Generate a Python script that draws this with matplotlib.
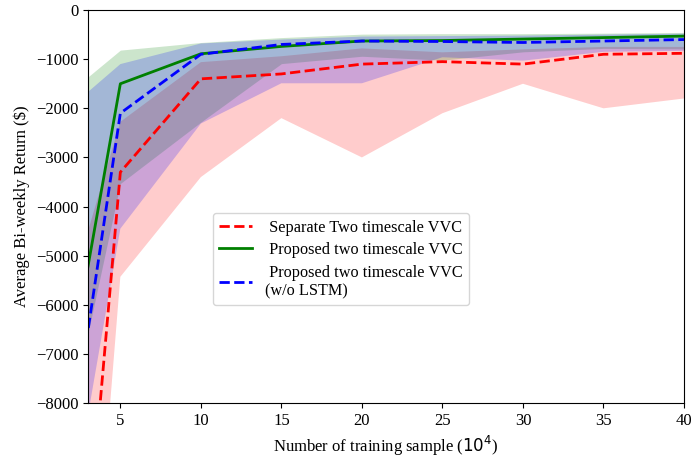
import matplotlib
matplotlib.use("Agg")
import matplotlib.pyplot as plt

plt.rcParams['font.family'] = ['Liberation Serif', 'DejaVu Serif']
plt.rcParams['mathtext.fontset'] = 'dejavusans'

x = [1, 5, 10, 15, 20, 25, 30, 35, 40]

red_mean = [-18300, -3300, -1400, -1300, -1100, -1050, -1100, -900, -880]
red_top = [-6700, -2275, -1060, -940, -780, -860, -800, -750, -750]
red_bot = [-21700, -5430, -3400, -2200, -3000, -2100, -1500, -2000, -1800]

green_mean = [-8900, -1500, -890, -740, -630, -620, -590, -560, -530]
green_top = [-1900, -815, -660, -560, -490, -480, -480, -470, -455]
green_bot = [-9600, -3530, -2280, -1090, -940, -1020, -850, -780, -790]

blue_mean = [-10900, -2100, -900, -700, -630, -640, -660, -630, -600]
blue_top = [-2230, -1100, -680, -600, -540, -530, -520, -500, -480]
blue_bot = [-12000, -4450, -2310, -1490, -1490, -960, -1030, -850, -830]

labels = [" Separate Two timescale VVC",
          " Proposed two timescale VVC",
          " Proposed two timescale VVC\n(w/o LSTM)"]

fig = plt.figure(figsize=(6.94, 4.58), dpi=100)
ax = fig.add_axes([0.127, 0.12, 0.8586, 0.858])

ax.fill_between(x, red_bot, red_top, color='red', alpha=0.2, linewidth=0)
ax.fill_between(x, green_bot, green_top, color='green', alpha=0.2, linewidth=0)
ax.fill_between(x, blue_bot, blue_top, color='blue', alpha=0.2, linewidth=0)

ax.plot(x, red_mean, color='red', linestyle='--', linewidth=2, label=labels[0])
ax.plot(x, green_mean, color='green', linestyle='-', linewidth=2, label=labels[1])
ax.plot(x, blue_mean, color='blue', linestyle='--', linewidth=2, label=labels[2])

ax.set_xlim(3, 40)
ax.set_ylim(-8000, 0)
ax.set_xticks([5, 10, 15, 20, 25, 30, 35, 40])
ax.set_yticks(range(-8000, 1, 1000))
ax.tick_params(labelsize=12)
ax.set_xlabel("Number of training sample ($10^4$)", fontsize=12)
ax.set_ylabel("Average Bi-weekly Return ($)", fontsize=12)

ax.legend(loc='center', bbox_to_anchor=(0.424, 0.366), fontsize=11.7,
          handlelength=2.0, labelspacing=0.4)

fig.savefig("out.png", dpi=100)
